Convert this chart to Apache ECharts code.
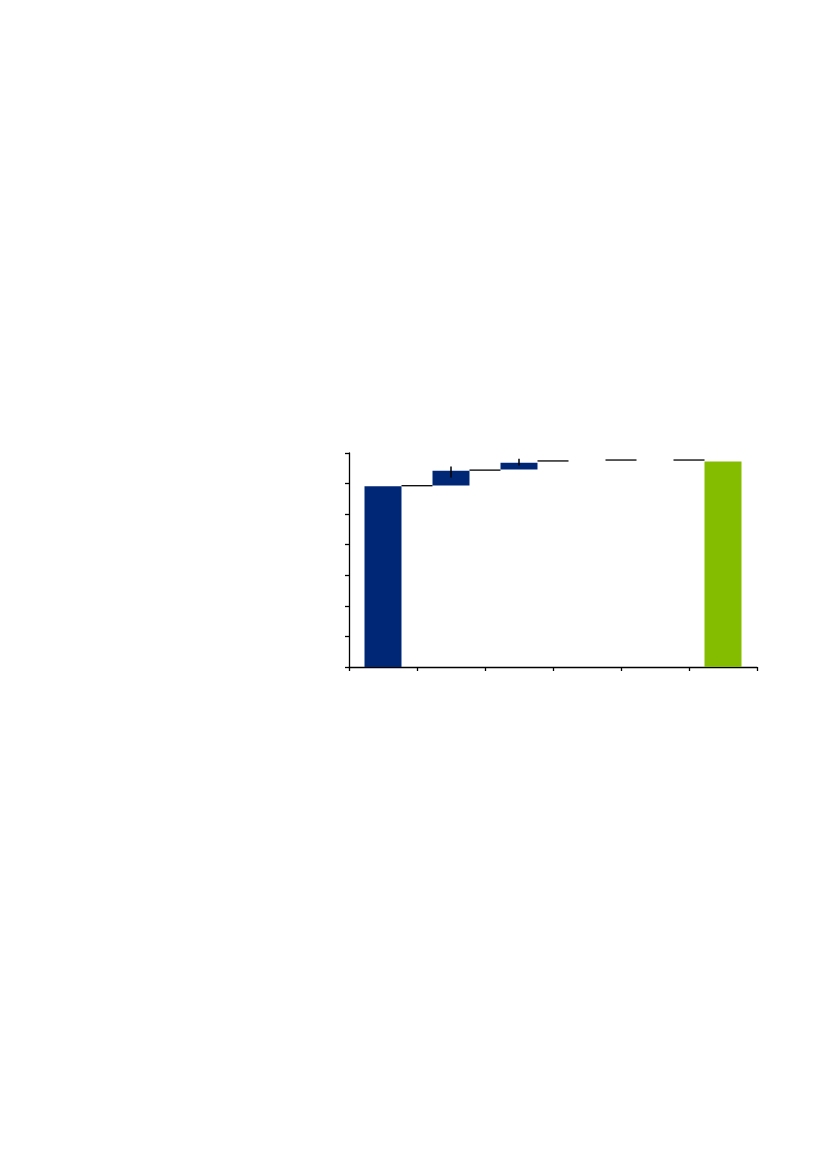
<!DOCTYPE html>
<html>
<head>
<meta charset="utf-8">
<title>Waterfall</title>
<script src="https://cdn.jsdelivr.net/npm/echarts@6/dist/echarts.min.js"></script>
<style>
  html, body { margin: 0; padding: 0; background: #fff; }
  #chart { width: 827px; height: 1169px; }
</style>
</head>
<body>
<div id="chart"></div>
<script>
// categories have no visible labels in the original
const categories = ['Start', 'Step 1', 'Step 2', 'Step 3', 'Step 4', 'End'];
// invisible offset under each floating bar
const baseValues = [0, 5.94, 6.46, 6.74, 6.77, 0];
// visible bar heights
const barValues = [5.91, 0.48, 0.22, 0, 0, 6.72];
// connector level from category i to i+1
const connectorLevels = [5.93, 6.44, 6.74, 6.77, 6.77];
// vertical whiskers on the step bars: [category, low, high]
const whiskers = [[1, 6.20, 6.56], [2, 6.59, 6.81]];
const yTicks = [0, 1, 2, 3, 4, 5, 6, 7];

const NAVY = '#002776';
const GREEN = '#84bc00';
const BAR_FRAC = 0.544;

let chart = echarts.init(document.getElementById('chart'));

chart.setOption({
  animation: false,
  grid: { left: 349, right: 70, top: 453, bottom: 502, containLabel: false },
  xAxis: {
    type: 'category',
    data: categories,
    axisLine: { lineStyle: { color: '#000', width: 1.3 } },
    axisTick: { show: true, length: 4, lineStyle: { color: '#000', width: 1.3 } },
    axisLabel: { show: false },
    splitLine: { show: false }
  },
  yAxis: {
    type: 'value',
    min: yTicks[0],
    max: yTicks[yTicks.length - 1],
    interval: 1,
    axisLine: { show: true, lineStyle: { color: '#000', width: 1.3 } },
    axisTick: { show: true, length: 4, lineStyle: { color: '#000', width: 1.3 } },
    axisLabel: { show: false },
    splitLine: { show: false }
  },
  series: [
    {
      type: 'bar',
      stack: 'w',
      barWidth: (BAR_FRAC * 100) + '%',
      itemStyle: { color: 'transparent' },
      data: baseValues,
      silent: true
    },
    {
      type: 'bar',
      stack: 'w',
      barWidth: (BAR_FRAC * 100) + '%',
      data: barValues.map((v, i) => ({
        value: v,
        itemStyle: { color: i === barValues.length - 1 ? GREEN : NAVY }
      }))
    },
    {
      type: 'custom',
      data: connectorLevels.map((v, i) => [i, v]),
      renderItem: function (params, api) {
        let p = api.coord([api.value(0), api.value(1)]);
        let band = api.size([1, 0])[0];
        let half = band * BAR_FRAC / 2;
        return {
          type: 'line',
          shape: { x1: p[0] + half, y1: p[1], x2: p[0] + band - half, y2: p[1] },
          style: { stroke: '#000', lineWidth: 1.3 }
        };
      },
      z: 5
    },
    {
      type: 'custom',
      data: whiskers,
      renderItem: function (params, api) {
        let lo = api.coord([api.value(0), api.value(1)]);
        let hi = api.coord([api.value(0), api.value(2)]);
        return {
          type: 'line',
          shape: { x1: lo[0], y1: lo[1], x2: hi[0], y2: hi[1] },
          style: { stroke: '#000', lineWidth: 1.5 }
        };
      },
      z: 6
    }
  ]
});
</script>
</body>
</html>
